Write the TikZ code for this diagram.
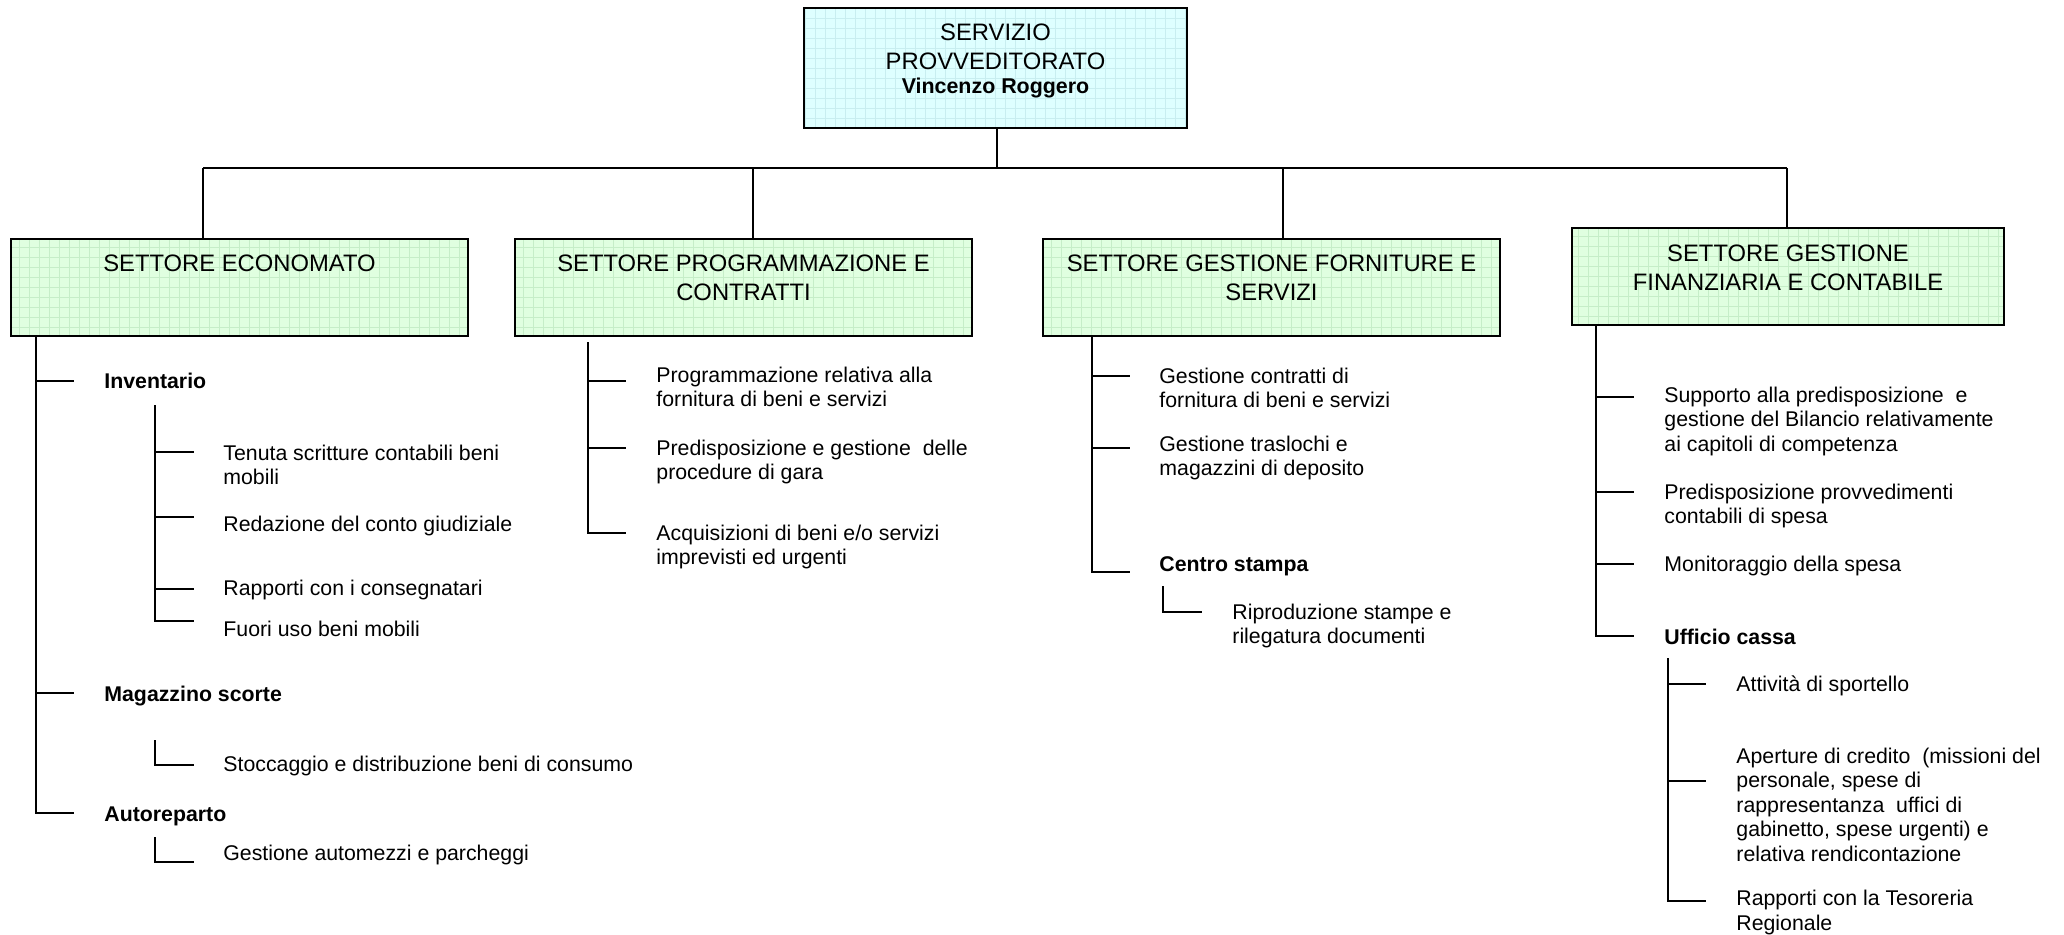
\documentclass[tikz,border=0pt]{standalone}
\usepackage{fontspec}
\setmainfont{Liberation Sans}
\usepackage{xcolor}
\usetikzlibrary{positioning,calc}

\definecolor{headfill}{RGB}{222,255,255}
\definecolor{headgrid}{RGB}{200,238,240}
\definecolor{sectfill}{RGB}{224,255,224}
\definecolor{sectgrid}{RGB}{198,238,200}

\begin{document}
\begin{tikzpicture}[x=0.5pt,y=-0.5pt]
            \tikzset{head/.style = {draw, line width=0.9pt, fill=headfill, minimum width=191.5pt, minimum height=60pt, inner sep=0pt,
                path picture={\draw[headgrid, line width=0.25pt, step=5pt] (path picture bounding box.south west) grid (path picture bounding box.north east);}}}
            \tikzset{sector/.style = {draw, line width=0.9pt, fill=sectfill, minimum width=228.5pt, minimum height=48.5pt, inner sep=0pt,
                path picture={\draw[sectgrid, line width=0.25pt, step=5pt] (path picture bounding box.south west) grid (path picture bounding box.north east);}}}
            \tikzset{title/.style = {inner sep=0pt, anchor=north, align=center, font=\fontsize{11.9}{14.5}\selectfont}}
            \tikzset{item/.style = {inner sep=0pt, anchor=base west, align=left, font=\fontsize{10.65}{12.3}\selectfont}}
            \tikzset{group/.style = {item, font=\fontsize{10.65}{12.3}\selectfont\bfseries}}
            \tikzset{edge/.style = {line width=0.9pt}}

            \path[use as bounding box, fill=white] (0,0) rectangle (2064,934);

            % boxes
            \node[head] (serv) at (995.5,68) {};
            \node[sector] (eco) at (239.5,287.5) {};
            \node[sector] (prog) at (743.5,287.5) {};
            \node[sector] (forn) at (1271.5,287.5) {};
            \node[sector, minimum width=216pt] (fin) at (1788,276.5) {};

            \node[title] (serv-t) at ([yshift=-8pt]serv.north) {SERVIZIO\\PROVVEDITORATO\\[-2.5pt]{\fontsize{10.7}{12}\selectfont\bfseries Vincenzo Roggero}};
            \node[title] (eco-t) at ([yshift=-8pt]eco.north) {SETTORE ECONOMATO};
            \node[title] (prog-t) at ([yshift=-8pt]prog.north) {SETTORE PROGRAMMAZIONE E\\CONTRATTI};
            \node[title] (forn-t) at ([yshift=-8pt]forn.north) {SETTORE GESTIONE FORNITURE E\\SERVIZI};
            \node[title] (fin-t) at ([yshift=-8.5pt]fin.north) {SETTORE GESTIONE\\FINANZIARIA E CONTABILE};

            % items (base = last line)
            \node[group] (inv) at (104,388) {Inventario};
            \node[item] (ten) at (223,484.6) {Tenuta scritture contabili beni\\mobili};
            \node[item] (red) at (223,531) {Redazione del conto giudiziale};
            \node[item] (rap) at (223,595) {Rapporti con i consegnatari};
            \node[item] (fuo) at (223,636) {Fuori uso beni mobili};
            \node[group] (mag) at (104,701) {Magazzino scorte};
            \node[item] (sto) at (223,771) {Stoccaggio e distribuzione beni di consumo};
            \node[group] (aut) at (104,821) {Autoreparto};
            \node[item] (gau) at (223,860) {Gestione automezzi e parcheggi};

            \node[item] (pr1) at (656,406.6) {Programmazione relativa alla\\fornitura di beni e servizi};
            \node[item] (pr2) at (656,479.6) {Predisposizione e gestione\ \ delle\\procedure di gara};
            \node[item] (pr3) at (656,564.6) {Acquisizioni di beni e/o servizi\\imprevisti ed urgenti};

            \node[item] (fo1) at (1159,407.6) {Gestione contratti di\\fornitura di beni e servizi};
            \node[item] (fo2) at (1159,475.6) {Gestione traslochi e\\magazzini di deposito};
            \node[group] (cen) at (1159,571) {Centro stampa};
            \node[item] (rip) at (1232,643.6) {Riproduzione stampe e\\rilegatura documenti};

            \node[item] (fi1) at (1664,451.2) {Supporto alla predisposizione\ \ e\\gestione del Bilancio relativamente\\ai capitoli di competenza};
            \node[item] (fi2) at (1664,523.6) {Predisposizione provvedimenti\\contabili di spesa};
            \node[item] (fi3) at (1664,571) {Monitoraggio della spesa};
            \node[group] (uff) at (1664,644) {Ufficio cassa};
            \node[item] (at1) at (1736,691) {Attività di sportello};
            \node[item] (at2) at (1736,861.4) {Aperture di credito\ \ (missioni del\\personale, spese di\\rappresentanza\ \ uffici di\\gabinetto, spese urgenti) e\\relativa rendicontazione};
            \node[item] (at3) at (1736,930) {Rapporti con la Tesoreria\\Regionale};

            % edges
            \coordinate (bus-l) at (203,168);
            \coordinate (bus-c) at (997,168);
            \coordinate (bus-p) at (753,168);
            \coordinate (bus-f) at (1283,168);
            \coordinate (bus-r) at (1787,168);
            \draw[edge] (bus-c) -- (bus-c |- serv.south);
            \draw[edge] (bus-l) -- (bus-r);
            \draw[edge] (bus-l) -- (bus-l |- eco.north);
            \draw[edge] (bus-p) -- (bus-p |- prog.north);
            \draw[edge] (bus-f) -- (bus-f |- forn.north);
            \draw[edge] (bus-r) -- (bus-r |- fin.north);

            % trunks: root / x of branch ends / branches
            \foreach \r/\rx/\ry/\ex/\last/\list in {
                eco/36/336/74/aut/{inv/381,mag/693,aut/813},
                inv/155/405/194/fuo/{ten/452,red/517,rap/589,fuo/621},
                mag/155/740/194/sto/{sto/765},
                aut/155/837/194/gau/{gau/862},
                prog/588/342/626/pr3/{pr1/381,pr2/448,pr3/533},
                forn/1092/336/1130/cen/{fo1/376,fo2/448,cen/572},
                cen/1163/586/1202/rip/{rip/612},
                fin/1596/325/1634/uff/{fi1/397,fi2/492,fi3/564,uff/636},
                uff/1668/658/1706/at3/{at1/684,at2/781,at3/901}}
            {
              \coordinate (\r-root) at (\rx,\ry);
              \foreach \n/\y in \list
              {
                \coordinate (\n-e) at (\ex,\y);
                \draw[edge] (\n-e -| \r-root) -- (\n-e);
              }
              \draw[edge] (\r-root) |- (\last-e);
            }

\end{tikzpicture}
\end{document}
